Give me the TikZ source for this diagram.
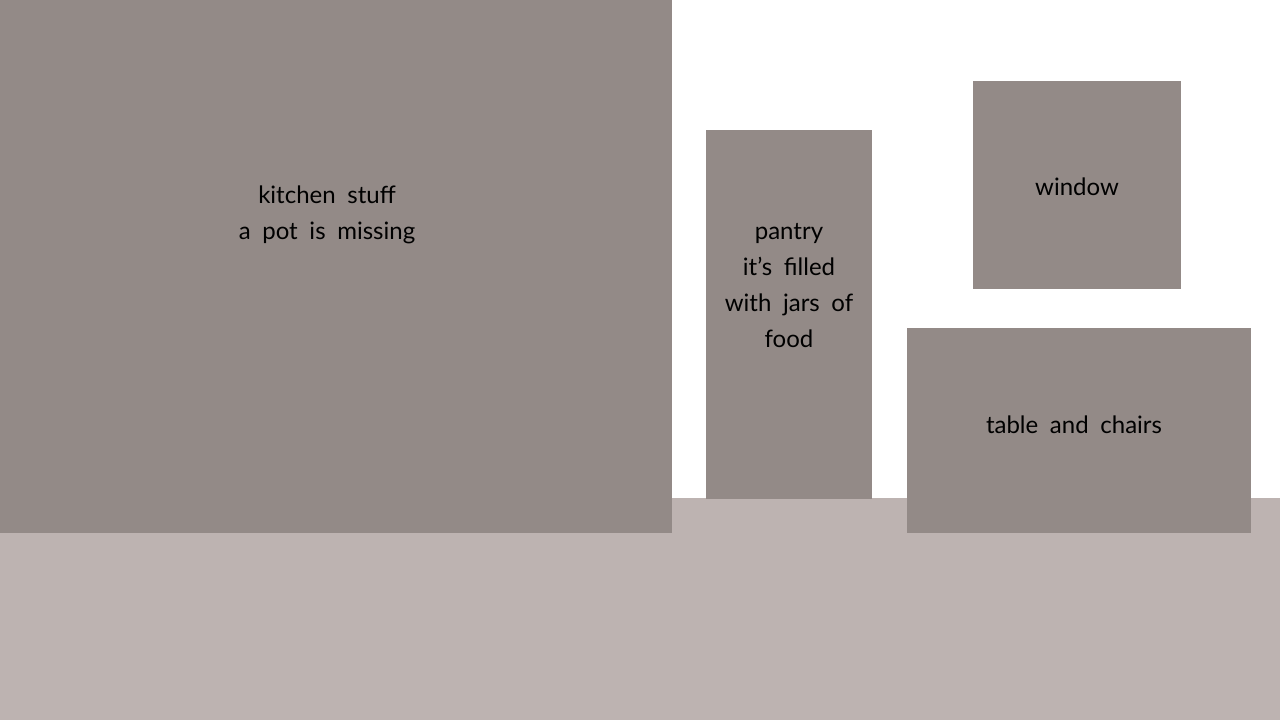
\documentclass[tikz,border=0pt]{standalone}
\usepackage{fontspec}
\setmainfont[WordSpace={1.9}]{Lato}
\usetikzlibrary{positioning}

\definecolor{roomgray}{HTML}{938A87}
\definecolor{floorgray}{HTML}{BDB3B1}

\begin{document}
\begin{tikzpicture}[x=0.5pt, y=-0.5pt,
  room/.style={fill=roomgray, draw=none, anchor=north west, inner sep=0pt},
  lbl/.style={font=\fontsize{12}{18}\selectfont, align=center, text=black}]
  \useasboundingbox (0,0) rectangle (1280,720);
  % floor
  \fill[floorgray] (0,498) rectangle (1280,720);

  % Rooms
  \node[room, minimum width=336pt, minimum height=266.5pt] (kitchen) at (0,0) {};
  \node[room, minimum width=83pt, minimum height=184.5pt] (pantry) at (706,130) {};
  \node[room, minimum width=104pt, minimum height=104pt] (window) at (973,81) {};
  \node[room, minimum width=172pt, minimum height=102.5pt] (table) at (907,328) {};

  % Labels
  \node[lbl] (kitchentxt) at (327,215) {kitchen stuff\\a pot is missing};
  \node[lbl] (pantrytxt) at (789,286) {pantry\\it’s filled\\with jars of\\food};
  \node[lbl] (windowtxt) at (1077,187) {window};
  \node[lbl] (tabletxt) at (1074,425) {table and chairs};
\end{tikzpicture}
\end{document}
